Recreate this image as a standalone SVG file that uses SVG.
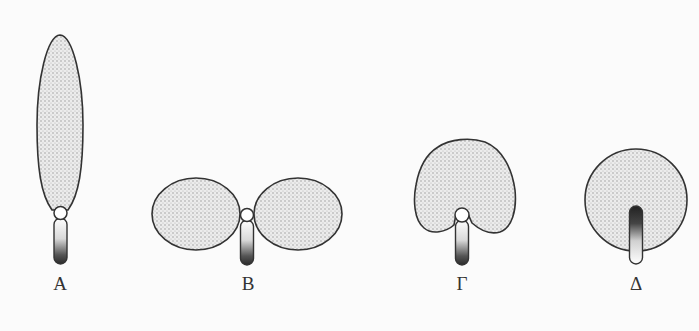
<svg xmlns="http://www.w3.org/2000/svg" width="699" height="331" viewBox="0 0 699 331">
  <style>
    .blade { fill: url(#stipple); stroke: #333; stroke-width: 1.6; }
    .pulv { fill: #ffffff; stroke: #333; stroke-width: 1.5; }
    .stem { stroke: #333; stroke-width: 1.4; }
    .lbl { font-family: "Liberation Serif", "DejaVu Serif", serif; font-size: 19px; fill: #333; text-anchor: middle; }
  </style>
  <defs>
    <pattern id="stipple" width="4" height="4" patternUnits="userSpaceOnUse">
      <rect width="4" height="4" fill="#ececec"/>
      <circle cx="1" cy="1" r="0.75" fill="#9a9a9a"/>
      <circle cx="3" cy="3" r="0.6" fill="#b4b4b4"/>
    </pattern>
    <linearGradient id="darkBottom" x1="0" y1="0" x2="0" y2="1">
      <stop offset="0" stop-color="#ffffff"/>
      <stop offset="0.45" stop-color="#d8d8d8"/>
      <stop offset="0.8" stop-color="#555"/>
      <stop offset="1" stop-color="#2a2a2a"/>
    </linearGradient>
    <linearGradient id="darkTop" x1="0" y1="0" x2="0" y2="1">
      <stop offset="0" stop-color="#222"/>
      <stop offset="0.3" stop-color="#444"/>
      <stop offset="0.6" stop-color="#d0d0d0"/>
      <stop offset="1" stop-color="#ffffff"/>
    </linearGradient>
  </defs>

  <rect width="699" height="331" fill="#fbfbfb"/>

  <!-- A: long narrow blade -->
  <g id="leaf-a">
    <path class="blade" d="M60 35 C73 36 83 80 83 125 C83 168 79 195 68 210 L52 210 C41 195 37 168 37 125 C37 80 47 36 60 35 Z"/>
    <rect class="stem" x="54" y="218" width="13" height="46" rx="6.5" fill="url(#darkBottom)"/>
    <circle class="pulv" cx="60.5" cy="213" r="6.5"/>
    <text class="lbl" x="60" y="290">Α</text>
  </g>

  <!-- B: two paired blades -->
  <g id="leaf-b">
    <ellipse class="blade" cx="196" cy="214" rx="44" ry="36"/>
    <ellipse class="blade" cx="298" cy="214" rx="44" ry="36"/>
    <rect class="stem" x="240.5" y="220" width="13" height="45" rx="6.5" fill="url(#darkBottom)"/>
    <circle class="pulv" cx="247" cy="215" r="6.5"/>
    <text class="lbl" x="248" y="290">Β</text>
  </g>

  <!-- Γ: heart-shaped blade -->
  <g id="leaf-g">
    <path class="blade" d="M454 225 C446 232 432 235 424 228 C414 220 413 200 416 185 C419 168 425 155 438 147 C450 139 470 137 485 142 C502 149 512 168 515 190 C517 210 512 228 500 232 C490 235 480 230 472 223 L468 214 Q462 206 456 214 Z"/>
    <rect class="stem" x="455.5" y="220" width="13" height="45" rx="6.5" fill="url(#darkBottom)"/>
    <circle class="pulv" cx="462" cy="215" r="7"/>
    <text class="lbl" x="462" y="290">Γ</text>
  </g>

  <!-- Δ: round peltate blade -->
  <g id="leaf-d">
    <circle class="blade" cx="636" cy="200" r="51"/>
    <rect class="stem" x="629.5" y="206" width="13" height="58" rx="6.5" fill="url(#darkTop)"/>
    <text class="lbl" x="636" y="290">Δ</text>
  </g>
</svg>
